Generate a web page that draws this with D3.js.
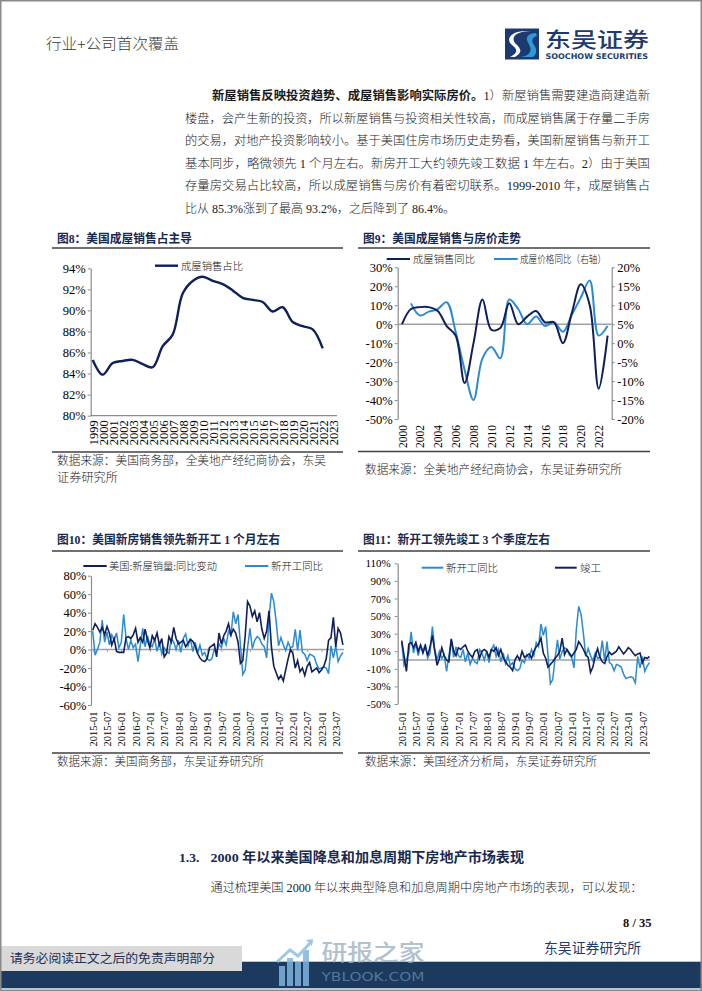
<!DOCTYPE html>
<html><head><meta charset="utf-8">
<script src="https://cdn.jsdelivr.net/npm/d3@7"></script>
<style>body{margin:0;background:#fff}svg{display:block}</style>
</head><body><svg id="page" width="702" height="991"></svg>
<script>
// ---------------- DATA ----------------
const cat8 = ["1999","2000","2001","2002","2003","2004","2005","2006","2007","2008","2009","2010","2011","2012","2013","2014","2015","2016","2017","2018","2019","2020","2021","2022","2023"];
const share8 = [85.3,83.9,85.0,85.2,85.3,84.9,84.6,86.6,87.7,91.6,92.8,93.2,92.8,92.5,91.9,91.2,91.0,90.8,89.9,90.3,88.9,88.5,88.2,86.4];
const yTicks8 = [80,82,84,86,88,90,92,94];

const cat9 = ["2000","2001","2002","2003","2004","2005","2006","2007","2008","2009","2010","2011","2012","2013","2014","2015","2016","2017","2018","2019","2020","2021","2022","2023"];
const xLabels9 = ["2000","2002","2004","2006","2008","2010","2012","2014","2016","2018","2020","2022"];
const salesYoY9 = [0,8,9,9,7,-1,-6,-31,-10,13,-3,-2,11,0,4,7,1,1,-10,6,21,10,-34,-6];
const priceYoY9 = [null,10.5,7.3,8.3,9,10.8,3,-7,-15,-4,-1,-4,11.5,9,5,7,4.5,5.5,3,7.5,12,16.5,2,4.5];
const yTicksL9 = [-50,-40,-30,-20,-10,0,10,20,30];
const yTicksR9 = [-20,-15,-10,-5,0,5,10,15,20];

// monthly, 2015-01 .. 2023-10
const monthLabels = ["2015-01","2015-07","2016-01","2016-07","2017-01","2017-07","2018-01","2018-07","2019-01","2019-07","2020-01","2020-07","2021-01","2021-07","2022-01","2022-07","2023-01","2023-07"];
const newHomeSalesYoY = [
 21,28,24,19,24,16,25,18,5,12,-2,-3,
 -3,-3,13,14,12,16,23,8,13,8,22,10,
 2,15,10,18,5,12,-8,-4,14,8,24,12,
 6,8,10,3,7,11,9,4,-4,-9,-12,-13,
 -10,2,4,6,-8,18,6,15,20,28,16,22,
 18,8,-15,-12,15,52,47,36,42,30,40,22,
 12,20,42,3,-18,-25,-32,-28,-34,-22,-10,0,
 -4,-20,-12,-24,-20,-28,-18,-14,-24,-22,-20,-25,
 -22,-18,-10,10,13,35,3,23,18,5];
const startsYoY = [
 20,-6,0,8,32,8,19,5,16,10,18,2,
 8,38,12,0,10,2,6,-13,5,23,3,15,
 5,3,12,-2,8,-5,2,-2,-4,12,8,0,
 10,-3,12,17,4,12,-2,8,-4,5,-6,-3,
 -10,-12,-10,0,-3,6,2,12,5,20,15,41,
 28,38,5,-27,-22,2,23,1,10,14,12,6,
 3,-9,35,61,52,30,4,13,5,-1,8,2,
 3,22,-1,21,-3,-5,-12,-5,-6,-8,-16,-21,
 -20,-19,-20,-26,4,-9,4,-13,-7,-3];
const completionsYoY = [
 22,5,-13,18,20,14,20,10,17,8,16,5,
 15,28,10,-6,2,14,5,0,-2,24,10,5,
 14,12,15,17,10,6,3,10,12,2,10,12,
 10,3,12,10,14,5,12,3,-2,-6,-8,-12,
 0,5,0,10,3,5,7,2,10,15,18,25,
 8,2,-8,-5,-2,2,5,10,25,6,12,8,
 4,8,12,21,17,12,6,3,-14,-8,4,13,
 3,-2,-4,4,9,6,8,10,15,11,7,10,
 14,12,8,5,7,8,-3,3,2,4];
const yTicks10 = [-60,-40,-20,0,20,40,60,80];
const yTicks11 = [-50,-30,-10,10,30,50,70,90,110];

// ---------------- STYLE ----------------
const SERIF = "'Liberation Serif','Noto Sans CJK SC',serif";
const CJK = "'Noto Sans CJK SC',sans-serif";
const NAVY = "#0f1f5c";
const LIGHT = "#2a8bd3";
const AXIS = "#8c8c8c";
const TITLE = "#17294f";

const svg = d3.select("#page");
svg.append("rect").attr("width",702).attr("height",991).attr("fill","#fff");

function text(g, x, y, s, o = {}) {
  const t = g.append("text").attr("x", x).attr("y", y)
    .attr("font-family", o.family || SERIF)
    .attr("font-size", o.size || 12)
    .attr("font-weight", o.weight || "normal")
    .attr("fill", o.fill || "#111")
    .attr("text-anchor", o.anchor || "start");
  if (o.len) t.attr("textLength", o.len).attr("lengthAdjust", "spacingAndGlyphs");
  if (o.opacity) t.attr("opacity", o.opacity);
  if (Array.isArray(s)) {
    s.forEach(p => t.append("tspan").attr("font-weight", p.w || null).text(p.t));
  } else t.text(s);
  return t;
}
function hline(x1, x2, y, c, w) {
  svg.append("line").attr("x1",x1).attr("x2",x2).attr("y1",y).attr("y2",y).attr("stroke",c).attr("stroke-width",w);
}

// ---------------- HEADER ----------------
text(svg, 46, 49, "行业+公司首次覆盖", {size: 14.5, fill: "#3a3a3a", len: 133, family: SERIF, weight: 300});
// logo
const logo = svg.append("g");
logo.append("rect").attr("x",505).attr("y",28.5).attr("width",34).attr("height",31).attr("fill","#1d3a70");
logo.append("path").attr("d","M531,31 C515,31 510,38 516,44 C521,49 523,52 515,57 L510,57 C519,52 517,49 512,45 C505,39 511,31 526,31 Z").attr("fill","#ffffff");
logo.append("path").attr("d","M536,33 C530,33 526,36 527,40 C528,44 532,47 530,52 C528,56 523,57 518,57 L533,57 C537,54 537,49 534,45 C531,41 532,37 537,36 Z").attr("fill","#2c9ad8");
text(svg, 545, 46.5, "东吴证券", {size: 21, family: CJK, fill: "#1d3a70", len: 104, weight: 500});
text(svg, 545.5, 59, "SOOCHOW SECURITIES", {size: 7.8, family: "'DejaVu Sans','Liberation Sans',sans-serif", fill: "#1d3a70", len: 102.5, weight: "bold"});

// ---------------- PARAGRAPH ----------------
const para = [
  {x: 212, len: 438, parts: [{t: "新屋销售反映投资趋势、成屋销售影响实际房价。", w: "bold"}, {t: "1）新屋销售需要建造商建造新"}]},
  {x: 185, len: 465, parts: [{t: "楼盘，会产生新的投资，所以新屋销售与投资相关性较高，而成屋销售属于存量二手房"}]},
  {x: 185, len: 465, parts: [{t: "的交易，对地产投资影响较小。基于美国住房市场历史走势看，美国新屋销售与新开工"}]},
  {x: 185, len: 465, parts: [{t: "基本同步，略微领先 1 个月左右。新房开工大约领先竣工数据 1 年左右。2）由于美国"}]},
  {x: 185, len: 465, parts: [{t: "存量房交易占比较高，所以成屋销售与房价有着密切联系。1999-2010 年，成屋销售占"}]},
  {x: 185, len: 270, parts: [{t: "比从 85.3%涨到了最高 93.2%，之后降到了 86.4%。"}]}
];
para.forEach((l, i) => text(svg, l.x, 100 + i * 22.5, l.parts, {size: 12, len: l.len, fill: "#1a1a1a", weight: 300}));

// ---------------- CHART FRAMES ----------------
function frame(x0, x1, title, tlen, titleY, ruleTop, ruleBot) {
  text(svg, x0 + 5, titleY, title, {size: 12, weight: "bold", fill: TITLE, len: tlen});
  hline(x0, x1, ruleTop, "#404040", 1.4);
  hline(x0, x1, ruleBot, "#404040", 1.4);
}
frame(52, 343, "图8：美国成屋销售占主导", 135, 242.5, 248, 452);
frame(358, 650, "图9：美国成屋销售与房价走势", 158, 242.5, 248, 451.5);
frame(52, 343, "图10：美国新房销售领先新开工 1 个月左右", 223, 544, 551, 753);
frame(358, 650, "图11：新开工领先竣工 3 个季度左右", 187, 544, 551, 753);

const srcOpt = {size: 12, fill: "#1a1a1a", weight: 300};
text(svg, 57, 465, "数据来源：美国商务部，全美地产经纪商协会，东吴", {...srcOpt, len: 269});
text(svg, 57, 482, "证券研究所", {...srcOpt, len: 61});
text(svg, 365, 474, "数据来源：全美地产经纪商协会，东吴证券研究所", {...srcOpt, len: 257});
text(svg, 57, 766, "数据来源：美国商务部，东吴证券研究所", {...srcOpt, len: 207});
text(svg, 365, 766, "数据来源：美国经济分析局，东吴证券研究所", {...srcOpt, len: 232});

function styleAxis(g, size) {
  g.selectAll("path.domain").attr("stroke", AXIS).attr("stroke-width", 1.2);
  g.selectAll(".tick line").attr("stroke", AXIS).attr("stroke-width", 1);
  g.selectAll("text").attr("font-family", SERIF).attr("font-size", size).attr("fill", "#000");
}
function rotLabels(g, top) {
  g.select("path.domain").remove();
  g.selectAll(".tick line").remove();
  g.selectAll("text").attr("transform", "rotate(-90)").attr("text-anchor", "end")
    .attr("x", -top).attr("y", 0).attr("dy", "0.35em");
}
function legend(x1, x2, y, color, w, label, tx, tlen) {
  hline(x1, x2, y, color, w);
  text(svg, tx, y + 3.8, label, {size: 10.5, len: tlen, fill: "#111", weight: 300});
}

// ---------------- CHART 8 ----------------
{
  const x = d3.scalePoint().domain(cat8).range([92.7, 332.7]);
  const y = d3.scaleLinear().domain([80, 94]).range([415.7, 268.3]);
  const ga = svg.append("g").attr("transform", "translate(90.7,0)")
    .call(d3.axisLeft(y).tickValues(yTicks8).tickSize(3).tickPadding(2).tickFormat(d => d + "%").tickSizeOuter(0));
  styleAxis(ga, 12.5);
  hline(90.7, 337, 415.7, AXIS, 1.2);
  const gx = svg.append("g").attr("transform", "translate(0,415.7)")
    .call(d3.axisBottom(x).tickSize(0));
  styleAxis(gx, 12.5);
  rotLabels(gx, 4.5);
  svg.append("path").datum(share8)
    .attr("d", d3.line().x((d, i) => x(cat8[i])).y(d => y(d)).curve(d3.curveCatmullRom.alpha(0.5)))
    .attr("fill", "none").attr("stroke", NAVY).attr("stroke-width", 2.4);
  legend(155, 178, 265.7, NAVY, 2.4, "成屋销售占比", 181, 62);
}

// ---------------- CHART 9 ----------------
{
  const x = d3.scalePoint().domain(cat9).range([402, 607.6]);
  const yL = d3.scaleLinear().domain([-50, 30]).range([419, 267.3]);
  const yR = d3.scaleLinear().domain([-20, 20]).range([419, 267.3]);
  const gl = svg.append("g").attr("transform", "translate(397.7,0)")
    .call(d3.axisLeft(yL).tickValues(yTicksL9).tickSize(3).tickPadding(2).tickFormat(d => d + "%").tickSizeOuter(0));
  styleAxis(gl, 12.5);
  const gr = svg.append("g").attr("transform", "translate(611.7,0)")
    .call(d3.axisRight(yR).tickValues(yTicksR9).tickSize(3).tickPadding(2.5).tickFormat(d => d + "%").tickSizeOuter(0));
  styleAxis(gr, 12.5);
  hline(397.7, 611.7, yL(0), "#a0a0a0", 1.5);
  const gx = svg.append("g").attr("transform", "translate(0,419)")
    .call(d3.axisBottom(x).tickValues(xLabels9).tickSize(0));
  styleAxis(gx, 11.5);
  rotLabels(gx, 6);
  svg.append("path").datum(priceYoY9)
    .attr("d", d3.line().defined(d => d !== null).x((d, i) => x(cat9[i])).y(d => yR(d)).curve(d3.curveCatmullRom.alpha(0.5)))
    .attr("fill", "none").attr("stroke", LIGHT).attr("stroke-width", 2);
  svg.append("path").datum(salesYoY9)
    .attr("d", d3.line().x((d, i) => x(cat9[i])).y(d => yL(d)).curve(d3.curveCatmullRom.alpha(0.5)))
    .attr("fill", "none").attr("stroke", NAVY).attr("stroke-width", 2);
  legend(386.7, 410, 259, NAVY, 2, "成屋销售同比", 413, 62);
  legend(494, 517.7, 259, LIGHT, 2, "成屋价格同比（右轴）", 520, 86);
}

// ---------------- CHART 10 ----------------
{
  const x = d3.scaleLinear().domain([0, 105]).range([92.7, 342.9]);
  const y = d3.scaleLinear().domain([-60, 80]).range([705, 575.7]);
  const ga = svg.append("g").attr("transform", "translate(91,0)")
    .call(d3.axisLeft(y).tickValues(yTicks10).tickSize(3).tickPadding(1.5).tickFormat(d => d + "%").tickSizeOuter(0));
  styleAxis(ga, 12.5);
  const tickIdx = monthLabels.map((d, i) => i * 6);
  const gz = svg.append("g").attr("transform", `translate(0,${y(0)})`)
    .call(d3.axisBottom(x).tickValues(tickIdx).tickSize(2.5).tickFormat("").tickSizeOuter(0));
  gz.select("path.domain").attr("stroke", "#a0a0a0").attr("stroke-width", 1.5).attr("d", `M91,0H344`);
  gz.selectAll(".tick line").attr("stroke", "#c0a080");
  const gx = svg.append("g").attr("transform", "translate(0,705)")
    .call(d3.axisBottom(x).tickValues(tickIdx).tickSize(0).tickFormat((d, i) => monthLabels[i]));
  styleAxis(gx, 10.5);
  rotLabels(gx, 6.5);
  const line = v => d3.line().x((d, i) => x(i)).y(d => y(d))(v);
  svg.append("path").attr("d", line(startsYoY)).attr("fill", "none").attr("stroke", LIGHT).attr("stroke-width", 1.5);
  svg.append("path").attr("d", line(newHomeSalesYoY)).attr("fill", "none").attr("stroke", NAVY).attr("stroke-width", 1.6);
  legend(83.3, 106.7, 566, NAVY, 2, "美国:新屋销量:同比变动", 109, 108);
  legend(245, 268.3, 566, LIGHT, 2, "新开工同比", 271, 52);
}

// ---------------- CHART 11 ----------------
{
  const x = d3.scaleLinear().domain([0, 105]).range([401.7, 649.5]);
  const y = d3.scaleLinear().domain([-50, 110]).range([704, 563.3]);
  const ga = svg.append("g").attr("transform", "translate(397.7,0)")
    .call(d3.axisLeft(y).tickValues(yTicks11).tickSize(3).tickPadding(4).tickFormat(d => d + "%").tickSizeOuter(0));
  styleAxis(ga, 11);
  const tickIdx = monthLabels.map((d, i) => i * 6);
  hline(397.7, 650, y(0), "#a0a0a0", 1.5);
  const gx = svg.append("g").attr("transform", "translate(0,704)")
    .call(d3.axisBottom(x).tickValues(tickIdx).tickSize(0).tickFormat((d, i) => monthLabels[i]));
  styleAxis(gx, 10.5);
  rotLabels(gx, 7.5);
  const line = v => d3.line().x((d, i) => x(i)).y(d => y(d))(v);
  svg.append("path").attr("d", line(startsYoY)).attr("fill", "none").attr("stroke", LIGHT).attr("stroke-width", 1.5);
  svg.append("path").attr("d", line(completionsYoY)).attr("fill", "none").attr("stroke", NAVY).attr("stroke-width", 1.6);
  legend(421.7, 443.3, 567.7, LIGHT, 2, "新开工同比", 446, 52);
  legend(555, 576.7, 567.7, NAVY, 2, "竣工", 580, 21);
}

// ---------------- BOTTOM TEXT ----------------
text(svg, 179, 862, "1.3.", {size: 13.5, weight: "bold", fill: TITLE});
text(svg, 210.5, 862, "2000 年以来美国降息和加息周期下房地产市场表现", {size: 13.5, weight: "bold", fill: TITLE, len: 313.5});
text(svg, 210.5, 891.5, "通过梳理美国 2000 年以来典型降息和加息周期中房地产市场的表现，可以发现：", {size: 12, len: 432, fill: "#1a1a1a", weight: 300});
text(svg, 651.6, 927, "8 / 35", {size: 12.5, weight: "bold", anchor: "end", fill: "#111"});
text(svg, 544, 953, "东吴证券研究所", {size: 14, len: 97, fill: "#1d3a70"});

svg.append("rect").attr("x", 0).attr("y", 961.7).attr("width", 702).attr("height", 26.6).attr("fill", "#1b3a5e");
svg.append("rect").attr("x", 0).attr("y", 946).attr("width", 242).attr("height", 25).attr("fill", "#d9d9d9");
text(svg, 10, 963, "请务必阅读正文之后的免责声明部分", {size: 12.5, len: 205, fill: "#1d2f55"});

// watermark
const wm = svg.append("g").attr("opacity", 0.85);
[[279, 966, 6, 20], [287, 958, 6, 28], [295, 962, 6, 24], [303, 950, 6, 36]].forEach(b =>
  wm.append("rect").attr("x", b[0]).attr("y", b[1]).attr("width", b[2]).attr("height", b[3]).attr("fill", "#7fb4de"));
wm.append("path").attr("d", "M277,962 L290,950 L298,956 L312,941").attr("fill", "none").attr("stroke", "#8cc0e6").attr("stroke-width", 3);
wm.append("path").attr("d", "M306,940 L313,939 L312,946 Z").attr("fill", "#8cc0e6");
text(wm, 321.5, 960, "研报之家", {size: 22, family: CJK, fill: "#a6b6c6", len: 103, weight: 500});
text(wm, 321.5, 981, "YBLOOK.COM", {size: 12.5, family: "'DejaVu Sans',sans-serif", fill: "#5f81a6", len: 103});

// page border
svg.append("rect").attr("x", 0.75).attr("y", 0.75).attr("width", 700.5).attr("height", 989.5).attr("fill", "none").attr("stroke", "#8a8a8a").attr("stroke-width", 1.5);
</script></body></html>
